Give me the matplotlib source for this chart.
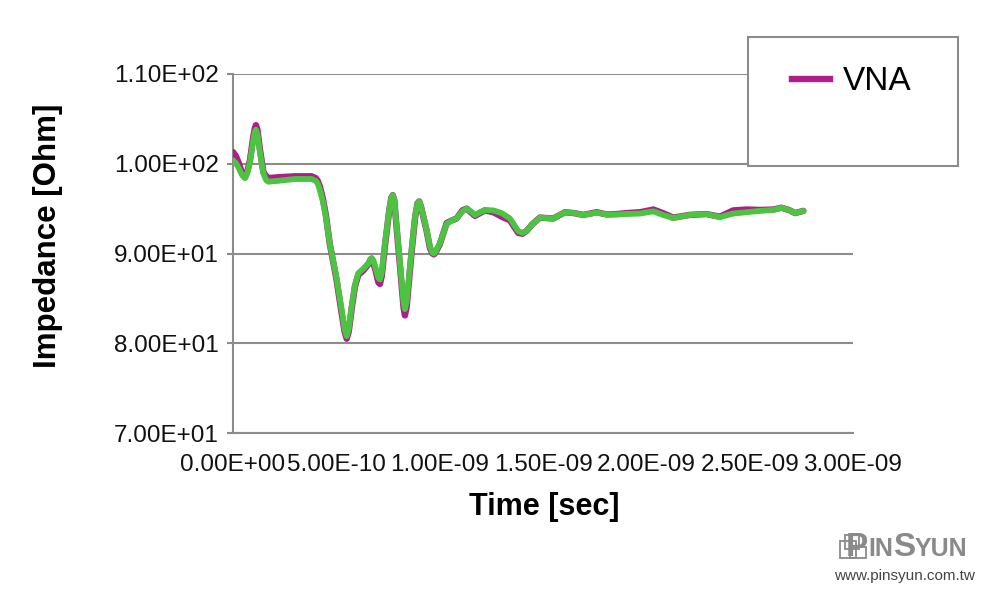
import matplotlib
matplotlib.use("Agg")
import matplotlib.pyplot as plt
from matplotlib.patches import Rectangle
from matplotlib.lines import Line2D
from matplotlib.ticker import FuncFormatter

plt.rcParams['font.family'] = ['Liberation Sans', 'DejaVu Sans']

# ---- data (time in ns, impedance in Ohm) ----
t_green = [0.00, 0.013, 0.026, 0.045, 0.058, 0.070, 0.082, 0.098, 0.105, 0.111, 0.118,
           0.131, 0.147, 0.160, 0.171, 0.22, 0.30, 0.38, 0.40, 0.41, 0.42, 0.435,
           0.45, 0.468, 0.50, 0.526, 0.540, 0.55, 0.560, 0.574, 0.590, 0.606,
           0.630, 0.655, 0.665, 0.671, 0.680, 0.69, 0.703, 0.711, 0.720, 0.735,
           0.756, 0.766, 0.773, 0.780, 0.792, 0.811, 0.825, 0.832, 0.840, 0.864,
           0.881, 0.893, 0.901, 0.910, 0.925, 0.937, 0.953, 0.965, 0.972, 0.980,
           1.00, 1.034, 1.060, 1.082, 1.110, 1.131, 1.150, 1.171, 1.195, 1.219,
           1.26, 1.30, 1.34, 1.38, 1.40, 1.42, 1.45, 1.485, 1.55, 1.606, 1.65,
           1.695, 1.76, 1.808, 1.86, 1.905, 1.97, 2.034, 2.08, 2.13, 2.21, 2.29,
           2.356, 2.42, 2.485, 2.55, 2.614, 2.654, 2.69, 2.72, 2.76]
z_green = [100.4, 100.1, 99.6, 98.7, 98.4, 99.0, 100.2, 102.6, 103.5, 103.8, 103.3,
           101.2, 98.9, 98.2, 98.0, 98.1, 98.3, 98.3, 98.1, 97.8, 97.1, 95.8,
           94.0, 91.1, 87.4, 83.7, 81.6, 80.8, 81.6, 84.1, 86.5, 87.8,
           88.3, 88.9, 89.4, 89.5, 89.2, 88.4, 87.3, 87.1, 87.9, 91.1,
           94.85, 96.2, 96.5, 96.0, 93.0, 88.2, 84.6, 83.8, 84.6, 90.4,
           94.1, 95.6, 95.8, 95.2, 93.8, 92.6, 90.8, 90.1, 90.0, 90.2,
           91.1, 93.3, 93.7, 93.9, 94.7, 95.0, 94.7, 94.3, 94.6, 94.85,
           94.8, 94.5, 93.9, 92.5, 92.3, 92.5, 93.3, 94.0, 93.9, 94.6, 94.5,
           94.3, 94.55, 94.35, 94.35, 94.4, 94.45, 94.7, 94.3, 93.95, 94.3, 94.4,
           94.05, 94.45, 94.6, 94.75, 94.85, 95.1, 94.85, 94.5, 94.75]

t_vna = t_green
z_vna = [101.3, 100.9, 100.2, 98.9, 98.5, 99.2, 100.4, 103.0, 103.9, 104.3, 103.8,
         101.5, 99.1, 98.6, 98.4, 98.5, 98.6, 98.6, 98.4, 98.1, 97.5, 96.1,
         94.2, 91.1, 87.2, 83.3, 81.3, 80.5, 81.3, 83.8, 86.3, 87.6,
         88.1, 88.8, 89.3, 89.4, 88.9, 88.1, 86.8, 86.6, 87.5, 90.8,
         94.8, 96.2, 96.5, 96.0, 92.8, 87.8, 84.0, 83.1, 84.0, 90.1,
         94.0, 95.6, 95.8, 95.2, 93.7, 92.5, 90.6, 90.0, 89.9, 90.1,
         91.0, 93.4, 93.7, 93.9, 94.8, 95.0, 94.6, 94.2, 94.5, 94.8,
         94.6, 94.1, 93.7, 92.3, 92.2, 92.5, 93.3, 94.0, 93.9, 94.6, 94.5,
         94.3, 94.6, 94.35, 94.4, 94.5, 94.6, 94.9, 94.5, 94.0, 94.3, 94.4,
         94.1, 94.8, 94.9, 94.85, 94.9, 95.1, 94.85, 94.5, 94.75]

y_ticks = [70, 80, 90, 100, 110]
x_ticks_ns = [0.0, 0.5, 1.0, 1.5, 2.0, 2.5, 3.0]
legend_label = "VNA"

# ---- figure ----
fig = plt.figure(figsize=(10, 6), dpi=100)
ax = fig.add_axes([0.233, 0.2783, 0.620, 0.5984])

ax.plot([t * 1e-9 for t in t_vna], z_vna, color='#b01c8c', lw=4.6,
        solid_joinstyle='round', solid_capstyle='round', zorder=3)
ax.plot([t * 1e-9 for t in t_green], z_green, color='#4cc441', lw=4.2,
        solid_joinstyle='round', solid_capstyle='round', zorder=4)

ax.set_xlim(0, 3e-9)
ax.set_ylim(70, 110)
ax.set_yticks(y_ticks)
ax.set_xticks([x * 1e-9 for x in x_ticks_ns])
ax.yaxis.set_major_formatter(FuncFormatter(lambda v, p: '{:.2E}'.format(v)))
ax.xaxis.set_major_formatter(FuncFormatter(lambda v, p: '{:.2E}'.format(v)))

ax.grid(axis='y', color='#8c8c8c', lw=1.5)
ax.set_axisbelow(True)
for s in ['top', 'right']:
    ax.spines[s].set_visible(False)
for s in ['left', 'bottom']:
    ax.spines[s].set_color('#8c8c8c')
    ax.spines[s].set_linewidth(1.5)

ax.tick_params(axis='y', length=4, width=1.5, color='#8c8c8c', pad=6,
               labelsize=17.5, labelcolor='#111111')
ax.tick_params(axis='x', length=0, pad=15, labelsize=17.5, labelcolor='#111111')

fig.text(0.048, 1 - 236 / 600, 'Impedance [Ohm]', rotation=90, ha='center', va='center',
         fontsize=22.5, fontweight='bold')
fig.text(0.544, 1 - 507 / 600, 'Time [sec]', ha='center', va='center',
         fontsize=22, fontweight='bold')

# legend box
box = Rectangle((0.748, 1 - 166 / 600), 0.210, 129 / 600, transform=fig.transFigure,
                facecolor='white', edgecolor='#8c8c8c', lw=1.5, zorder=5)
fig.patches.append(box)
handle = Line2D([], [], color='#b01c8c', lw=4.6)
leg = fig.legend([handle], [legend_label], loc='center left',
                 bbox_to_anchor=(0.792, 1 - 82 / 600), frameon=False,
                 fontsize=24, handlelength=1.14, handletextpad=0.39,
                 borderpad=0, borderaxespad=0)
leg.set_zorder(6)

# logo
gray = '#8a8a8a'
base = 1 - 556 / 600
fig.text(0.846, base, 'P', fontsize=24, fontweight='bold', color=gray, ha='left', va='baseline')
fig.text(0.868, base, 'IN', fontsize=18, fontweight='bold', color=gray, ha='left', va='baseline')
fig.text(0.893, base, 'S', fontsize=24, fontweight='bold', color=gray, ha='left', va='baseline')
fig.text(0.915, base, 'YUN', fontsize=18, fontweight='bold', color=gray, ha='left', va='baseline')
for (x0, y0, w, h) in [(840, 541, 16, 17), (845, 535, 14, 14), (850, 547, 16, 11)]:
    fig.patches.append(Rectangle((x0 / 1000, 1 - (y0 + h) / 600), w / 1000, h / 600,
                                 transform=fig.transFigure, facecolor='none',
                                 edgecolor=gray, lw=1.3, zorder=5))
fig.text(0.904, 1 - 580 / 600, 'www.pinsyun.com.tw', fontsize=11, color='#444444',
         ha='center', va='baseline')

fig.savefig('out.png', dpi=100)
